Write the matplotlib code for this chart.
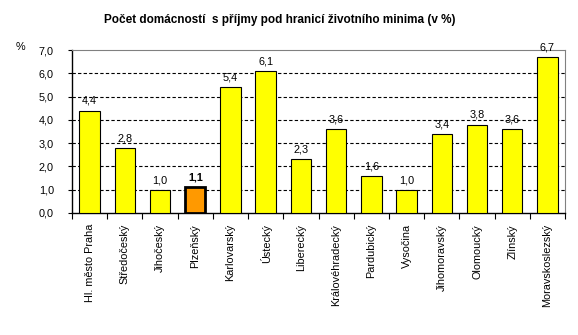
import matplotlib.pyplot as plt

plt.rcParams['font.family'] = ['Liberation Sans', 'DejaVu Sans']

regions = ['Hl. město Praha', 'Středočeský', 'Jihočeský', 'Plzeňský', 'Karlovarský',
           'Ústecký', 'Liberecký', 'Královéhradecký', 'Pardubický', 'Vysočina',
           'Jihomoravský', 'Olomoucký', 'Zlínský', 'Moravskoslezský']
values = [4.4, 2.8, 1.0, 1.1, 5.4, 6.1, 2.3, 3.6, 1.6, 1.0, 3.4, 3.8, 3.6, 6.7]
highlight = 'Plzeňský'

fig = plt.figure(figsize=(5.78, 3.35), dpi=100)
ax = fig.add_axes([0.1246, 0.3642, 0.853, 0.4865])

x = list(range(len(regions)))
colors = ['#FF9900' if r == highlight else '#FFFF00' for r in regions]
widths = [2.0 if r == highlight else 0.8 for r in regions]
ax.bar(x, values, width=0.58, color=colors, edgecolor='black', linewidth=widths, zorder=3)

for i, v in enumerate(values):
    bold = regions[i] == highlight
    ax.text(i, v + 0.2, f'{v:.1f}'.replace('.', ','), ha='center', va='bottom',
            fontsize=7.8, fontweight='bold' if bold else 'normal')

ax.set_xlim(-0.5, len(regions) - 0.5)
ax.set_ylim(0, 7)
ax.set_yticks(range(0, 8))
ax.set_yticklabels([f'{v:.1f}'.replace('.', ',') for v in range(0, 8)], fontsize=7.8)
for yv in range(1, 7):
    ax.axhline(yv, color='black', linestyle=(0, (3, 2)), linewidth=0.8, zorder=1)

ax.set_xticks([i + 0.5 for i in x[:-1]] + [-0.5, len(regions) - 0.5])
ax.set_xticklabels([])
ax.tick_params(axis='x', length=4, direction='out', width=0.8)
ax.tick_params(axis='y', length=3, direction='out', width=0.8, pad=10)
ax.set_xticks(x, minor=True)
ax.set_xticklabels(regions, minor=True, rotation=90, fontsize=7.8)
ax.tick_params(axis='x', which='minor', length=0, pad=8)

ax.spines['top'].set_color('#808080')
ax.spines['right'].set_color('#808080')
ax.spines['left'].set_linewidth(1.0)
ax.spines['bottom'].set_linewidth(1.0)

fig.text(0.484, 0.94, 'Počet domácností  s příjmy pod hranicí životního minima (v %)',
         ha='center', va='center', fontsize=8.5, fontweight='bold')
fig.text(0.035, 0.86, '%', ha='center', va='center', fontsize=7.8)

plt.savefig('out.png', dpi=100)
